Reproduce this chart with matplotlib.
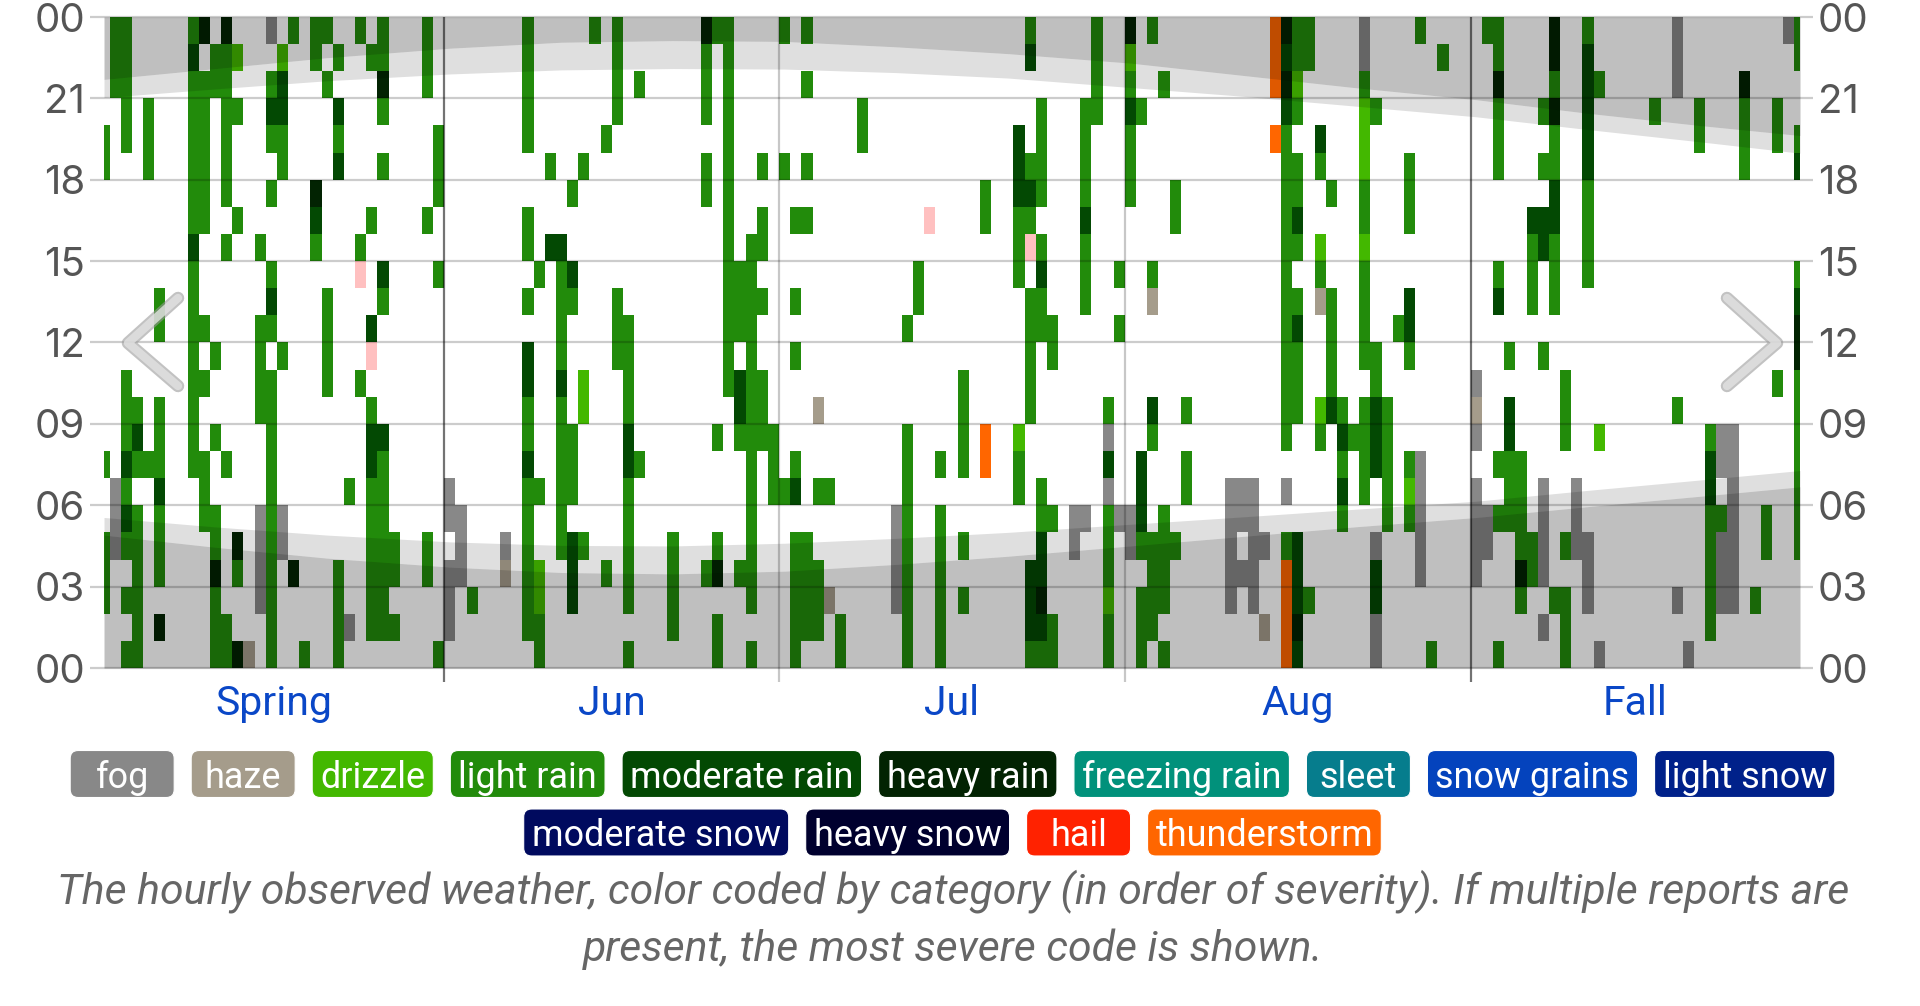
import matplotlib
matplotlib.use("Agg")
import numpy as np
import matplotlib.pyplot as plt
from matplotlib.colors import ListedColormap
from matplotlib.patches import FancyBboxPatch
from matplotlib.lines import Line2D
from matplotlib.transforms import blended_transform_factory, IdentityTransform, offset_copy

plt.rcParams['font.family'] = ['Roboto', 'DejaVu Sans']

# ---------------- data ----------------
month_labels = ['Spring', 'Jun', 'Jul', 'Aug', 'Fall']
month_lengths = [31, 30, 31, 31, 30]
hour_ticks = [0, 3, 6, 9, 12, 15, 18, 21, 24]
hour_labels = ['00', '03', '06', '09', '12', '15', '18', '21', '00']

# weather codes: f fog, z haze, d drizzle, l light rain, m moderate rain,
# h heavy rain, p hail (light), t thunderstorm ; '.' = no report
code_keys = ['f', 'z', 'd', 'l', 'm', 'h', 'p', 't']
code_colors = ['#888888', '#a59c8b', '#43b800', '#228b0b', '#034903', '#022302', '#ffc0c0', '#ff6600']

# one string per day, character i = hour i (00..23)
may_obs = [
    "..lll..l..........ll....",
    "....fff..............lll",
    "l.l.lmlmlll........lllll",
    "llllll.lml..............",
    ".......l..........lll...",
    ".h.lllmlll..ll..........",
    "........................",
    "........................",
    ".......llllllllmllllllml",
    ".....lll..l.l...llllll.h",
    "lllhll..l..l.........ll.",
    "ll.....l.......l.llllllh",
    "h..lh...........l...l.d.",
    "z.......................",
    "..ffff...llll..l........",
    "lllllllllll.lml..l.lml.f",
    "....ff.....l......llmmd.",
    "...h...................l",
    "l.......................",
    "...............lmh....ll",
    "..........llll.......l.l",
    "llll..............mlm.l.",
    ".f....l.................",
    "..........l...pl.......l",
    ".llllllmml.pm...l.....l.",
    ".lllllllm....lm...l.lhll",
    ".l.ll...................",
    "........................",
    "........................",
    "...ll...........l....lll",
    "l.............l..lll....",
]
jun_obs = [
    ".fff.ff.................",
    "...fff..................",
    "..l.....................",
    "........................",
    "........................",
    "...zf...................",
    "........................",
    ".llllllmllmm.l.ll..lllll",
    "lldd..l.......l.........",
    "...............m..l.....",
    "....llllllmllllm........",
    "..mmm.lll....lm..l......",
    "....l....dd.......l.....",
    ".......................l",
    "...l...............l....",
    "...........lll......llll",
    "l.lllllmmllll...........",
    ".......l.............l..",
    "........................",
    "........................",
    ".llll...................",
    "........................",
    "........................",
    "...l.............ll.lllh",
    "ll.hl...l..............l",
    "..........llllllllllllll",
    "...l....lmm.lll.........",
    "l.llllllllllllll........",
    "........lll..l.ll.l.....",
    "......lll...............",
]
jul_obs = [
    "......l...........l....l",
    "lllll.ml...l.l..l.......",
    ".llll...........l.l..l.l",
    ".lll..l..z..............",
    "..z...l.................",
    "ll......................",
    "........................",
    "...................ll...",
    "........................",
    "........................",
    "..ffff..................",
    "lllllllll...l...........",
    ".............ll.........",
    "................p.......",
    "llllll.l................",
    "........................",
    "..l.l..llll.............",
    "........................",
    ".......tt.......ll......",
    "........................",
    "........................",
    "......lld.....lllmmm....",
    "lmmm.....lllll.plml...ml",
    "lmhmmll.....llml.llll...",
    "ll...l.....ll...........",
    "........................",
    "....ff..................",
    ".....f.......lllmllll...",
    "....................llll",
    "lldlllfmfl..............",
    ".....f......l.l.........",
]
aug_obs = [
    "....ff...........lllmldh",
    "lll.lmmm............l...",
    ".llll...lm...zl........l",
    "l.llll...............l..",
    "....l...........ll......",
    "......ll.l..............",
    "........................",
    "........................",
    "........................",
    "..fffff.................",
    "...f.ff.................",
    "..fffff.................",
    ".z..f...................",
    "...................t.ttt",
    "ttttl.f.llllllllllllmhmh",
    "mhmmm....lllml.lmll.ldll",
    "..l...................ll",
    "........ld...zld..lm....",
    ".........mllll...l......",
    ".....lmlml..............",
    "........l...............",
    "......llll.lllldlldddlff",
    "ffmmf..mmmll........l...",
    ".....lllll..............",
    "............l...........",
    ".....ldl...lmm..lll.....",
    "...fffff...............l",
    "l.......................",
    "......................l.",
    "........................",
    "........................",
]
sep_obs = [
    "...ffff.fzf.............",
    "....ff.................l",
    "l....l.l.....ml...lllhll",
    ".....lllmm.l............",
    "..lhllll................",
    "...ll........lllm.......",
    ".f.ffff....l...mm.l.l...",
    "..l..........lllmmllhlhh",
    "lll.l...lll.............",
    "....fff.................",
    "..fff.........llllmmmmml",
    "f.......d............l..",
    "........................",
    "........................",
    "........................",
    "........................",
    "....................l...",
    "........................",
    "..f......l...........fff",
    "f.......................",
    "...................ll...",
    ".lllllmml...............",
    "..fffl.ff...............",
    "..fffffff...............",
    "..................lllh..",
    "..l.....................",
    "....ll..................",
    "..........l........ll...",
    ".......................f",
    "....lllllllhhml...ml..ll",
]

# sun curves (day position, hours)
sun_day = [0.5, 10.5, 20.5, 31.5, 41.5, 51.5, 61.5, 71.5, 81.5, 92.5, 102.5, 112.5, 123.5, 133.5, 143.5, 152.5]
dawn = [4.90, 4.45, 4.05, 3.72, 3.52, 3.47, 3.57, 3.82, 4.12, 4.50, 4.85, 5.20, 5.55, 5.95, 6.33, 6.68]
sunrise = [5.55, 5.20, 4.90, 4.65, 4.52, 4.50, 4.60, 4.78, 5.00, 5.30, 5.57, 5.85, 6.15, 6.55, 6.93, 7.28]
sunset = [21.03, 21.35, 21.65, 21.90, 22.05, 22.10, 22.08, 21.95, 21.75, 21.40, 21.08, 20.72, 20.32, 19.85, 19.40, 18.98]
dusk = [21.70, 22.10, 22.50, 22.85, 23.07, 23.13, 23.10, 22.90, 22.65, 22.30, 21.85, 21.40, 20.95, 20.45, 20.00, 19.63]

legend_row1_labels = ['fog', 'haze', 'drizzle', 'light rain', 'moderate rain', 'heavy rain',
                      'freezing rain', 'sleet', 'snow grains', 'light snow']
legend_row1_colors = ['#888888', '#a59c8b', '#43b800', '#228b0b', '#034903', '#022302',
                      '#01917b', '#067d8d', '#0443bd', '#00218a']
legend_row2_labels = ['moderate snow', 'heavy snow', 'hail', 'thunderstorm']
legend_row2_colors = ['#000a5e', '#00002e', '#ff2200', '#ff6600']

caption_lines = ["The hourly observed weather, color coded by category (in order of severity). If multiple reports are",
                 "present, the most severe code is shown."]

# ---------------- figure ----------------
W, H = 1920, 1006
fig = plt.figure(figsize=(W / 100, H / 100), dpi=100, facecolor='white')
AX_L, AX_R, AX_T, AX_B = 104, 1800, 17, 668
ax = fig.add_axes([AX_L / W, (H - AX_B) / H, (AX_R - AX_L) / W, (AX_B - AX_T) / H])
ax.axis('off')
axw = AX_R - AX_L
axh = AX_B - AX_T

obs = may_obs + jun_obs + jul_obs + aug_obs + sep_obs
for s in obs:
    assert len(s) == 24
n_days = len(obs)
M = np.full((24, n_days), np.nan)
for d, s in enumerate(obs):
    for hr, ch in enumerate(s):
        if ch != '.':
            M[hr, d] = code_keys.index(ch)

cmap = ListedColormap(code_colors)
ax.pcolormesh(np.arange(n_days + 1), np.arange(25), np.ma.masked_invalid(M), cmap=cmap,
              vmin=-0.5, vmax=len(code_keys) - 0.5, shading='flat', zorder=1,
              edgecolors='none', antialiased=False)

# night / twilight shading
ax.fill_between(sun_day, 0, dawn, color='black', alpha=0.25, lw=0, zorder=2)
ax.fill_between(sun_day, dawn, sunrise, color='black', alpha=0.125, lw=0, zorder=2)
ax.fill_between(sun_day, sunset, dusk, color='black', alpha=0.125, lw=0, zorder=2)
ax.fill_between(sun_day, dusk, 24, color='black', alpha=0.25, lw=0, zorder=2)

ax.set_xlim(0.5, n_days - 0.5)
ax.set_ylim(0, 24)

tr_ay = blended_transform_factory(ax.transAxes, ax.transData)
tr_xa = blended_transform_factory(ax.transData, ax.transAxes)

# horizontal grid lines (extend as ticks on both sides)
for h in hour_ticks:
    ax.plot([-14 / axw, 1 + 13 / axw], [h, h], transform=tr_ay, color='black', alpha=0.2,
            lw=1.6, clip_on=False, zorder=3, solid_capstyle='butt')

# month boundaries
month_starts = np.cumsum([0] + month_lengths)
season_edge = [True, False, False, True]
for i, xb in enumerate(month_starts[1:-1]):
    ax.plot([xb, xb], [-14 / axh, 1], transform=tr_xa, color='black',
            alpha=0.55 if season_edge[i] else 0.22, lw=1.6, clip_on=False, zorder=3,
            solid_capstyle='butt')

# hour labels
lab_tr = offset_copy(tr_ay, fig=fig, x=0, y=-14.6, units='dots')
for h, lab in zip(hour_ticks, hour_labels):
    ax.text(-19 / axw, h, lab, transform=lab_tr, ha='right', va='baseline',
            fontsize=29, color='#555555', family=['Inter', 'Roboto', 'DejaVu Sans'])
    ax.text(1 + 18 / axw, h, lab, transform=lab_tr, ha='left', va='baseline',
            fontsize=29, color='#555555', family=['Inter', 'Roboto', 'DejaVu Sans'])

# month labels
for i, lab in enumerate(month_labels):
    a = max(month_starts[i], 0.5)
    b = min(month_starts[i + 1], n_days - 0.5)
    ax.text((a + b) / 2, -47 / axh, lab, transform=tr_xa, ha='center', va='baseline',
            fontsize=29.5, color='#0a47c7')

# navigation chevrons
def chevron(pts):
    xs = [p[0] for p in pts]
    ys = [H - p[1] for p in pts]
    fig.add_artist(Line2D(xs, ys, transform=IdentityTransform(), color='#9a9a9a', alpha=0.6,
                          lw=9, solid_capstyle='round', solid_joinstyle='round', zorder=5))
    fig.add_artist(Line2D(xs, ys, transform=IdentityTransform(), color='#e2e2e2', alpha=0.8,
                          lw=6, solid_capstyle='round', solid_joinstyle='round', zorder=6))

chevron([(178, 298), (128, 343), (178, 386)])
chevron([(1727, 298), (1777, 343), (1727, 386)])

# legend
renderer = fig.canvas.get_renderer()
LFS = 25.9
rows = [(legend_row1_labels, legend_row1_colors, 750.5),
        (legend_row2_labels, legend_row2_colors, 809.0)]
BOX_H, GAP, MINW, PADX = 47, 17, 104, 8
for labels, colors, top in rows:
    texts = [fig.text(0, 0, lab, fontsize=LFS, color='white', ha='center', va='baseline',
                      transform=IdentityTransform(), zorder=3) for lab in labels]
    widths = [max(MINW, t.get_window_extent(renderer).width + 2 * PADX) for t in texts]
    total = sum(widths) + GAP * (len(widths) - 1)
    x0 = 952.5 - total / 2
    for t, w, c in zip(texts, widths, colors):
        box = FancyBboxPatch((x0, H - top - BOX_H), w, BOX_H,
                             boxstyle='round,pad=0,rounding_size=8',
                             transform=IdentityTransform(), fc=c, ec='white', lw=0.8, zorder=2)
        fig.add_artist(box)
        t.set_position((x0 + w / 2, H - top - 37))
        x0 += w + GAP

# caption
cap1 = fig.text(953, H - 904.5, caption_lines[0], ha='center', va='baseline', fontsize=28,
                style='italic', color='#666666', transform=IdentityTransform())
w1 = cap1.get_window_extent(renderer).width
CFS = 28 * 1788 / w1
cap1.set_fontsize(CFS)
fig.text(953, H - 961, caption_lines[1], ha='center', va='baseline', fontsize=CFS,
         style='italic', color='#666666', transform=IdentityTransform())

fig.savefig('out.png', dpi=100, facecolor='white')
